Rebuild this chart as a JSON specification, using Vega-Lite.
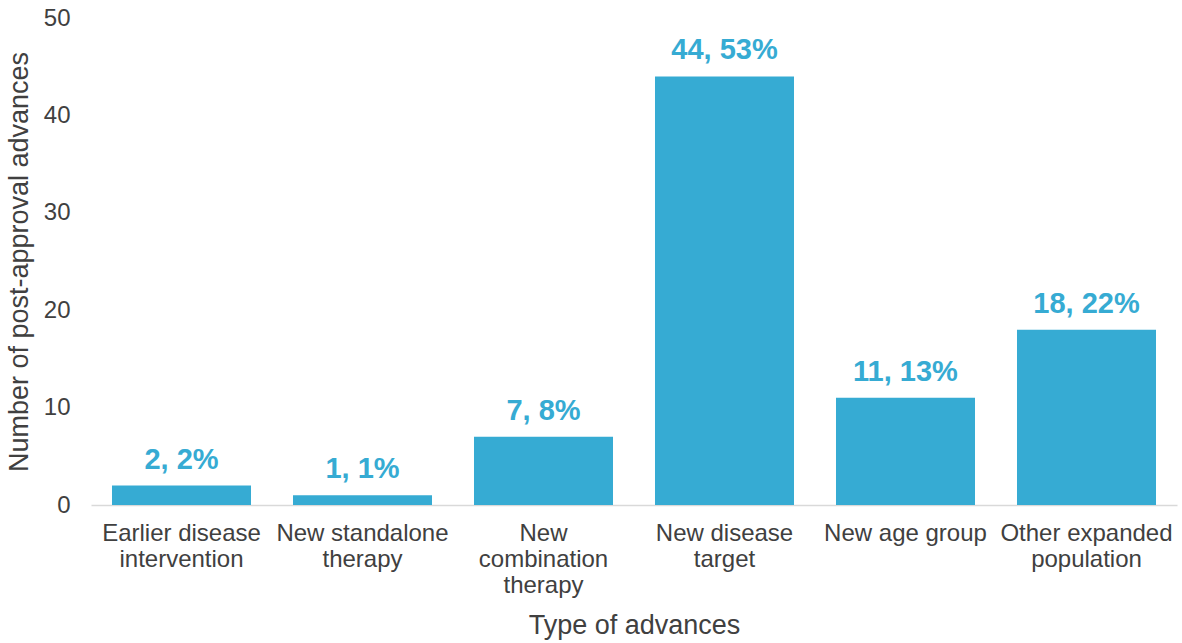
{
  "$schema": "https://vega.github.io/schema/vega-lite/v6.json",
  "autosize": "none",
  "width": 1086,
  "height": 487,
  "padding": {"left": 91, "top": 18, "right": 5, "bottom": 138},
  "background": "white",
  "config": {
    "view": {"stroke": null},
    "font": "Liberation Sans",
    "axis": {"labelFont": "Liberation Sans", "titleFont": "Liberation Sans", "labelColor": "#404040", "titleColor": "#404040", "titleFontWeight": "normal", "grid": false, "ticks": false}
  },
  "data": {
    "values": [
      {"type": "Earlier disease intervention", "count": 2, "pct": "2%"},
      {"type": "New standalone therapy", "count": 1, "pct": "1%"},
      {"type": "New combination therapy", "count": 7, "pct": "8%"},
      {"type": "New disease target", "count": 44, "pct": "53%"},
      {"type": "New age group", "count": 11, "pct": "13%"},
      {"type": "Other expanded population", "count": 18, "pct": "22%"}
    ]
  },
  "encoding": {
    "x": {
      "field": "type",
      "type": "nominal",
      "sort": null,
      "scale": {"paddingInner": 0.232},
      "title": "Type of advances",
      "axis": {
        "labelAngle": 0,
        "labelFontSize": 24,
        "labelLineHeight": 26,
        "labelPadding": 16,
        "labelBaseline": "top",
        "domain": true,
        "domainColor": "#D9D9D9",
        "domainWidth": 1.5,
        "titleFontSize": 27,
        "titlePadding": 15,
        "labelExpr": "datum.label == 'Earlier disease intervention' ? ['Earlier disease', 'intervention'] : datum.label == 'New standalone therapy' ? ['New standalone', 'therapy'] : datum.label == 'New combination therapy' ? ['New', 'combination', 'therapy'] : datum.label == 'New disease target' ? ['New disease', 'target'] : datum.label == 'Other expanded population' ? ['Other expanded', 'population'] : datum.label"
      }
    },
    "y": {
      "field": "count",
      "type": "quantitative",
      "scale": {"domain": [0, 50]},
      "title": "Number of post-approval advances",
      "axis": {
        "values": [0, 10, 20, 30, 40, 50],
        "domain": false,
        "labelFontSize": 24,
        "labelPadding": 21,
        "titleFontSize": 27,
        "titlePadding": 10
      }
    }
  },
  "layer": [
    {"mark": {"type": "bar", "color": "#36ABD3"}},
    {
      "mark": {"type": "text", "color": "#36ABD3", "fontWeight": "bold", "fontSize": 29, "baseline": "alphabetic", "dy": -17, "font": "Liberation Sans"},
      "encoding": {"text": {"field": "label"}},
      "transform": [{"calculate": "datum.count + ', ' + datum.pct", "as": "label"}]
    }
  ]
}
